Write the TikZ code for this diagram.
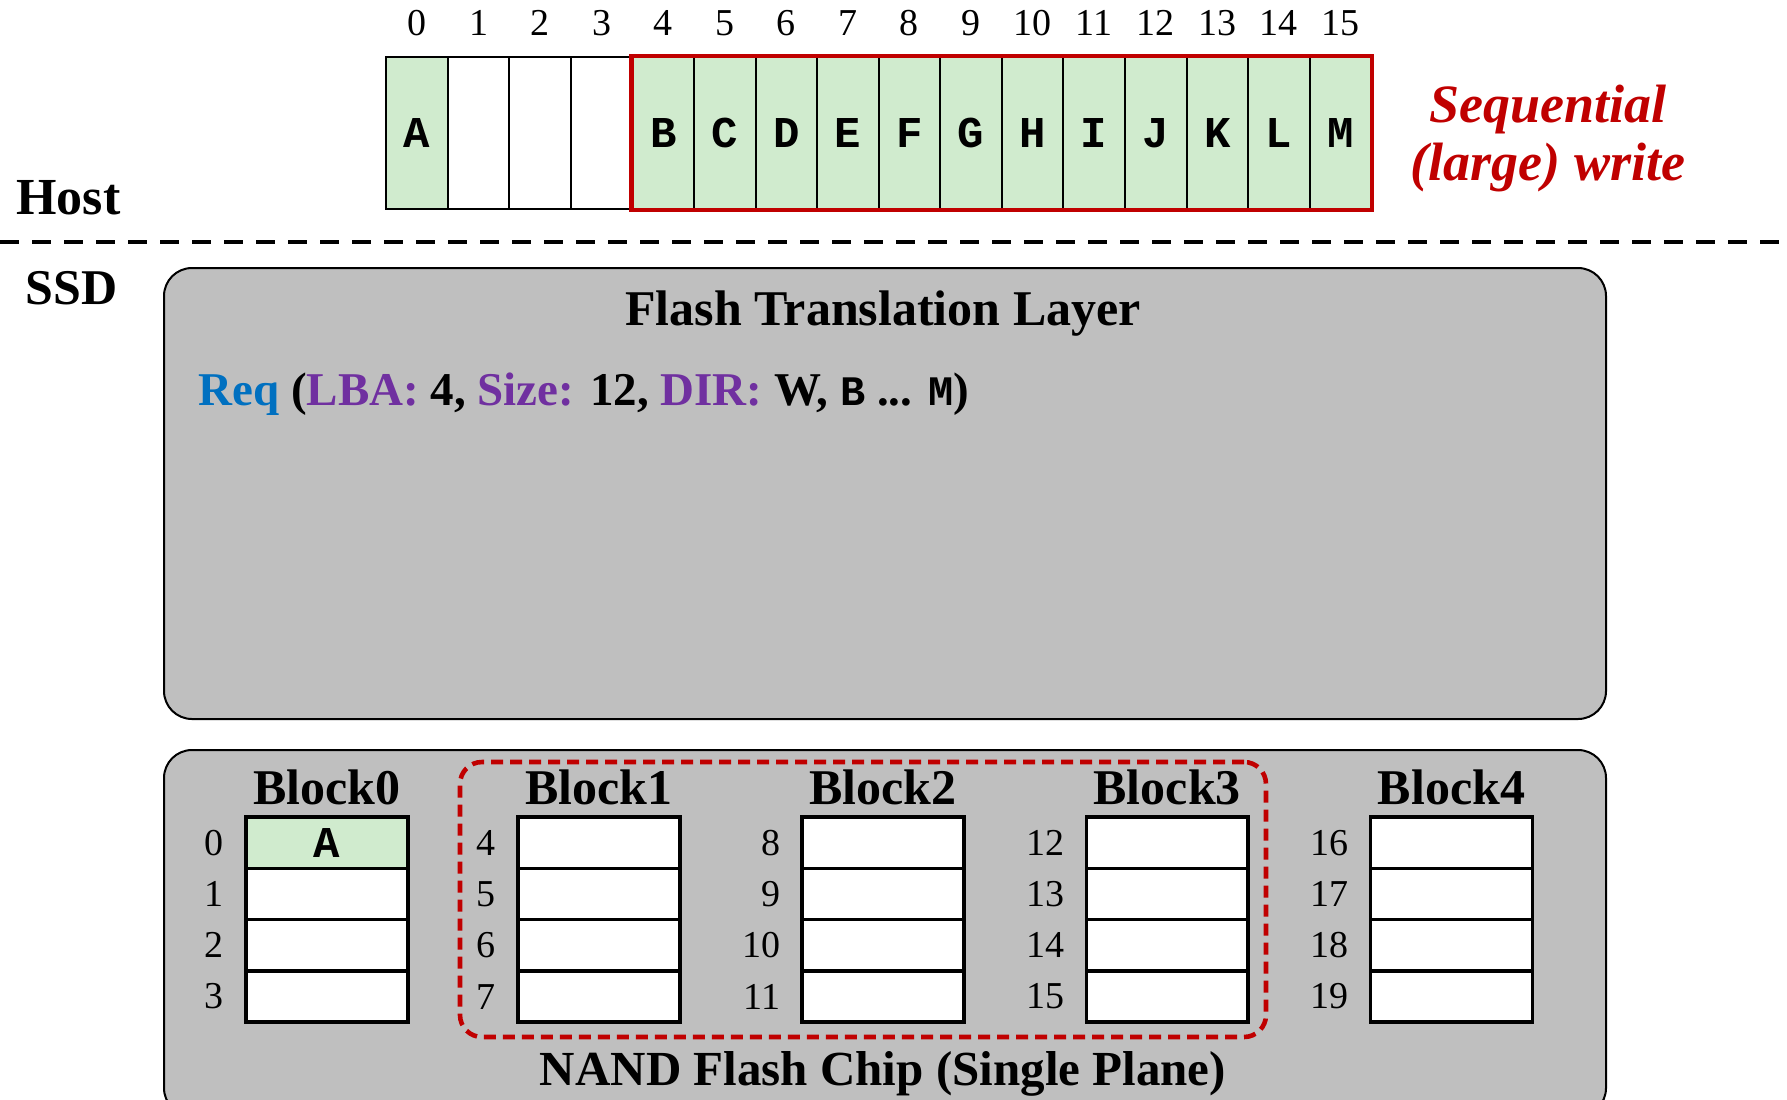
\documentclass[tikz,border=0pt]{standalone}
\usepackage{fontspec}
\setmainfont{Liberation Serif}
\setmonofont{Liberation Mono}
\usepackage{xcolor}
\usepackage{tikz}
\usetikzlibrary{positioning,fit}
\definecolor{cellgreen}{RGB}{208,235,206}
\definecolor{hlred}{RGB}{192,0,0}
\definecolor{boxgray}{RGB}{191,191,191}
\definecolor{reqblue}{RGB}{0,112,192}
\definecolor{fieldpurple}{RGB}{112,48,160}
\newcommand{\fld}[1]{\textcolor{fieldpurple}{#1}}
\newcommand{\lbatt}[1]{{\fontsize{21}{24}\selectfont\ttfamily\bfseries #1}}

\begin{document}
\begin{tikzpicture}[x=0.5pt, y=-0.5pt,
  hcell/.style={draw, line width=1pt, minimum width=30.78pt, minimum height=76pt, inner sep=0pt, font=\fontsize{22}{24}\selectfont\ttfamily\bfseries},
  pcell/.style={draw, line width=1.8pt, fill=white, minimum width=80.85pt, minimum height=25.65pt, inner sep=0pt, font=\fontsize{22}{24}\selectfont\ttfamily\bfseries},
  numlbl/.style={font=\fontsize{19}{21}\selectfont, inner sep=0pt},
  title/.style={font=\fontsize{25}{28}\selectfont\bfseries, inner sep=0pt},
  panel/.style={draw, line width=1pt, fill=boxgray, rounded corners=14pt, anchor=north west, inner sep=0pt}
]
  \useasboundingbox (0,0) rectangle (1787,1099);
  \clip (0,0) rectangle (1787,1099);

  % host side: logical blocks 0..15
  \foreach \i/\t in {0/A,1/,2/,3/,4/B,5/C,6/D,7/E,8/F,9/G,10/H,11/I,12/J,13/K,14/L,15/M} {
    \ifx\t\empty
      \node[hcell] (h\i) at ({417+61.56*\i}, 133) {};
    \else
      \node[hcell, fill=cellgreen] (h\i) at ({417+61.56*\i}, 133) {\t};
    \fi
    \node[numlbl, above=10pt of h\i] {\i};
  }
  \node[fit=(h4)(h15), draw=hlred, line width=2.2pt, inner sep=0pt] (seq) {};
  \node[font=\fontsize{27}{29}\selectfont\bfseries\itshape, text=hlred, align=center, inner sep=0pt] (seqlbl) at (1548,139) {Sequential\\(large) write};

  \node[title, font=\fontsize{26}{28}\selectfont\bfseries, anchor=base west] (host) at (16,214) {Host};
  \coordinate (sepL) at (0,242);
  \coordinate (sepR) at (1787,242);
  \draw[line width=2.4pt, dash pattern=on 9.5pt off 6.5pt] (sepL) -- (sepR);
  \node[title, font=\fontsize{25}{28}\selectfont\bfseries, anchor=base west] (ssd) at (25,304) {SSD};

  % FTL
  \node[panel, minimum width=721pt, minimum height=225.5pt] (ftl) at (163,267) {};
  \node[title, anchor=base] (ftltitle) at (883,325) {Flash Translation Layer};
  \node[title, font=\fontsize{23.5}{28}\selectfont\bfseries, anchor=base west] (req) at (198,405)
    {\textcolor{reqblue}{Req} (\fld{LBA:} 4, \fld{Size:} 12, \fld{DIR:} W, \lbatt{B} ... \lbatt{M})};

  % NAND chip
  \node[panel, minimum width=721pt, minimum height=183pt] (nand) at (163,749) {};
  \node[draw=hlred, line width=2.3pt, dash pattern=on 6pt off 3.5pt, rounded corners=11pt, minimum width=403pt, minimum height=137.5pt, inner sep=0pt] (grp) at (863,899.5) {};
  \foreach \i in {0,...,4} {
    \pgfmathsetmacro{\bx}{\i==0 ? 326.85 : 598.85+284.2*(\i-1)}
    \foreach \j in {0,...,3} {
      \pgfmathtruncatemacro{\pg}{4*\i+\j}
      \ifnum\pg=0
        \node[pcell, fill=cellgreen] (b\i-\j) at (\bx, {842.65+51.3*\j}) {A};
      \else
        \node[pcell] (b\i-\j) at (\bx, {842.65+51.3*\j}) {};
      \fi
      \node[numlbl, left=10pt of b\i-\j] {\pg};
    }
    \node[title, above=5pt of b\i-0] (blk\i) {Block\i};
  }
  \node[title, font=\fontsize{24.5}{28}\selectfont\bfseries, anchor=base] (nandlbl) at (883,1085) {NAND Flash Chip (Single Plane)};
\end{tikzpicture}
\end{document}
